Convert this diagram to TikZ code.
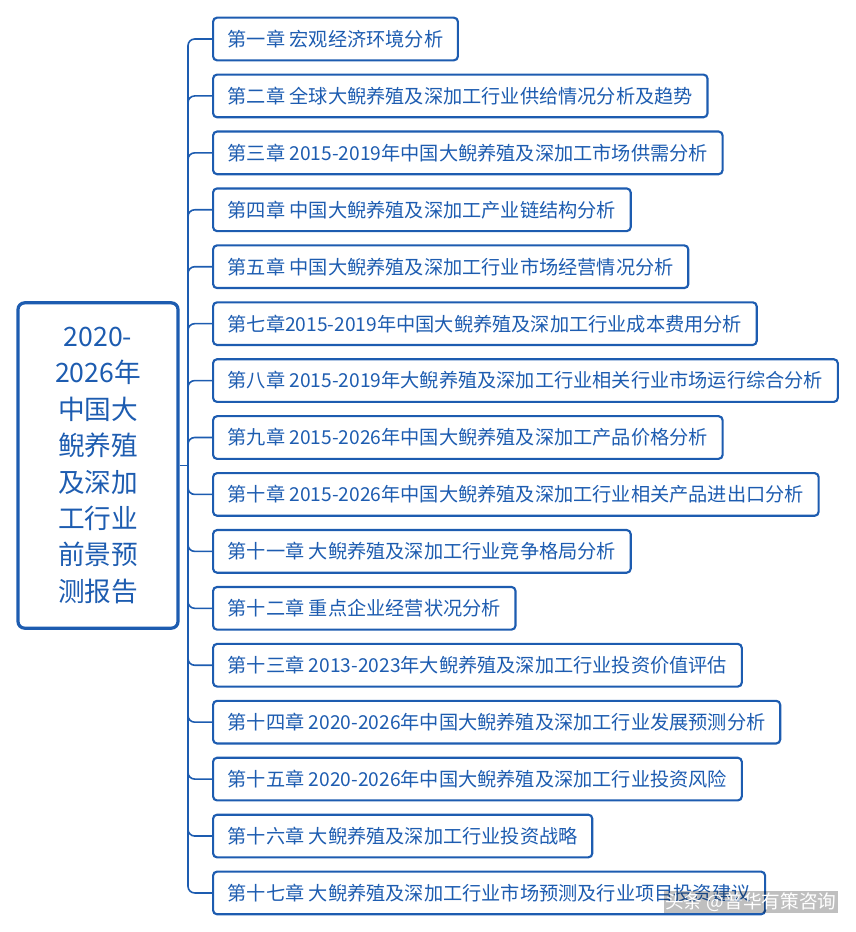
\documentclass[tikz,border=0pt]{standalone}
\usepackage{fontspec}
\setmainfont{Noto Sans CJK SC}
\usetikzlibrary{positioning}
\definecolor{mapblue}{HTML}{1D5CB0}
\tikzset{
  chapbox/.style={draw=mapblue, line width=1.6pt, rounded corners=3pt, text=mapblue,
    anchor=west, minimum height=32pt, inner xsep=11pt, font=\fontsize{14.4}{16}\selectfont},
  rootbox/.style={draw=mapblue, line width=2.4pt, rounded corners=5pt, text=mapblue,
    minimum width=120pt, minimum height=244pt, text width=100pt, align=center,
    font=\fontsize{20}{27.3}\selectfont},
  branch/.style={draw=mapblue, line width=1.2pt, rounded corners=5pt}
}
\begin{document}
\begin{tikzpicture}[x=0.75pt, y=-0.75pt]
    \useasboundingbox (0,0) rectangle (856,932);

    \node[rootbox] (root) at (98,465.5)
       {2020-\\2026年\\中国大\\鲵养殖\\及深加\\工行业\\前景预\\测报告};
    \coordinate (trunk) at (188,465.5);
    \draw[branch] (root.east) -- (trunk);

    \foreach \txt [count=\i] in {
       第一章 宏观经济环境分析,
       第二章 全球大鲵养殖及深加工行业供给情况分析及趋势,
       第三章 2015-2019年中国大鲵养殖及深加工市场供需分析,
       第四章 中国大鲵养殖及深加工产业链结构分析,
       第五章 中国大鲵养殖及深加工行业市场经营情况分析,
       第七章2015-2019年中国大鲵养殖及深加工行业成本费用分析,
       第八章 2015-2019年大鲵养殖及深加工行业相关行业市场运行综合分析,
       第九章 2015-2026年中国大鲵养殖及深加工产品价格分析,
       第十章 2015-2026年中国大鲵养殖及深加工行业相关产品进出口分析,
       第十一章 大鲵养殖及深加工行业竞争格局分析,
       第十二章 重点企业经营状况分析,
       第十三章 2013-2023年大鲵养殖及深加工行业投资价值评估,
       第十四章 2020-2026年中国大鲵养殖及深加工行业发展预测分析,
       第十五章 2020-2026年中国大鲵养殖及深加工行业投资风险,
       第十六章 大鲵养殖及深加工行业投资战略,
       第十七章 大鲵养殖及深加工行业市场预测及行业项目投资建议} {
      \node[chapbox] (c\i) at (212,{39+56.93*(\i-1)}) {\txt};
      \draw[branch] (trunk) |- (c\i.west);
    }

    \node[anchor=east, text=white, font=\fontsize{14}{16}\selectfont,
      fill=black, fill opacity=0.25, text opacity=1, inner sep=1pt] (mark) at (838,902) {头条 @普华有策咨询};
\end{tikzpicture}
\end{document}
